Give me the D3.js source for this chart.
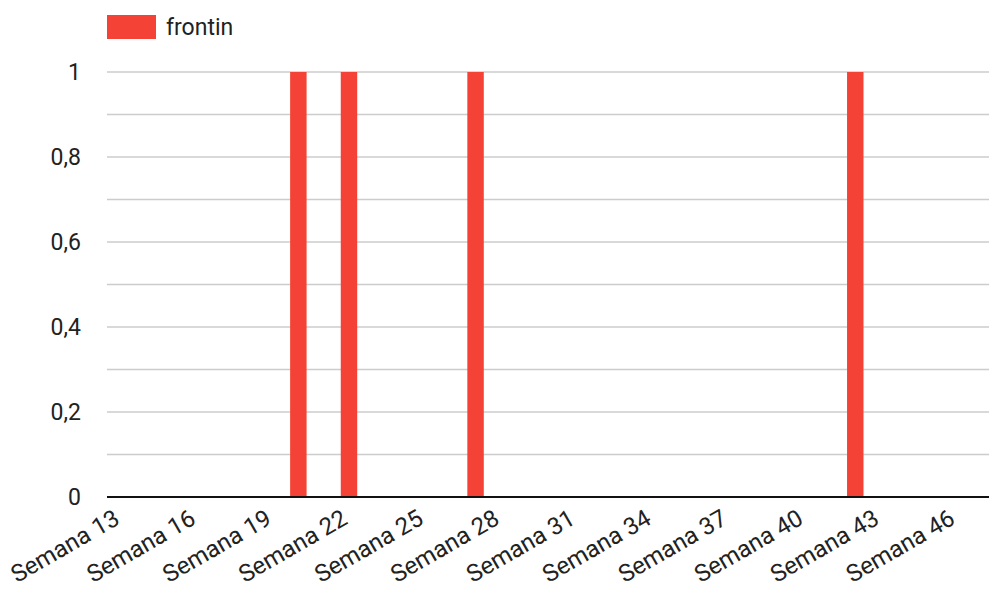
<!DOCTYPE html>
<html><head><meta charset="utf-8">
<script src="https://cdn.jsdelivr.net/npm/d3@7"></script>
<style>body{margin:0;background:#fff;} svg{display:block;font-family:Roboto,"Noto Sans",sans-serif;}</style>
</head><body>
<svg id="c" width="989" height="589"></svg>
<script>
const categories = [];
for (let w = 13; w <= 47; w++) categories.push("Semana " + w);
const seriesName = "frontin";
const values = [0,0,0,0,0,0,0,1,0,1,0,0,0,0,1,0,0,0,0,0,0,0,0,0,0,0,0,0,0,1,0,0,0,0,0];
const yTicks = [0,0.2,0.4,0.6,0.8,1];
const yGrid = [0,0.1,0.2,0.3,0.4,0.5,0.6,0.7,0.8,0.9,1];
const labelEvery = 3;
const color = "#f44336";

const svg = d3.select("#c");
const pLeft = 107, pRight = 993, pTop = 72, pBottom = 497;
const x = d3.scaleBand().domain(categories).range([pLeft + 1.5, pRight + 1.5]).paddingInner(0.35).paddingOuter(0.175);
const y = d3.scaleLinear().domain([0,1]).range([pBottom, pTop]);
const fmt = v => String(v).replace(".", ",");

// gridlines
svg.append("g").selectAll("line").data(yGrid.filter(d => d !== 0)).join("line")
  .attr("x1", pLeft).attr("x2", 989).attr("y1", d => y(d)).attr("y2", d => y(d))
  .attr("stroke", "#cccccc").attr("stroke-width", 1.5);

// y labels
svg.append("g").selectAll("text").data(yTicks).join("text")
  .attr("x", 81).attr("y", d => y(d)).attr("dy", "0.35em")
  .attr("text-anchor", "end").attr("font-size", 23).attr("fill", "#222")
  .text(fmt);

// bars
svg.append("g").selectAll("rect").data(categories.map((c,i)=>({c, v: values[i]})).filter(d => d.v > 0)).join("rect")
  .attr("x", d => x(d.c)).attr("width", x.bandwidth())
  .attr("y", d => y(d.v)).attr("height", d => y(0) - y(d.v))
  .attr("fill", color);

// baseline
svg.append("line").attr("x1", pLeft).attr("x2", 989).attr("y1", y(0)).attr("y2", y(0))
  .attr("stroke", "#111").attr("stroke-width", 2);

// x labels
svg.append("g").selectAll("text").data(categories.filter((c,i) => i % labelEvery === 0 && i < 34)).join("text")
  .attr("transform", d => `translate(${x(d) + x.bandwidth()/2},${pBottom + 26}) rotate(-30)`)
  .attr("text-anchor", "end").attr("font-size", 24).attr("fill", "#222")
  .text(d => d);

// legend
svg.append("rect").attr("x", 107).attr("y", 15).attr("width", 49).attr("height", 24).attr("fill", color);
svg.append("text").attr("x", 166).attr("y", 35).attr("font-size", 23).attr("fill", "#222").text(seriesName);
</script>
</body></html>
